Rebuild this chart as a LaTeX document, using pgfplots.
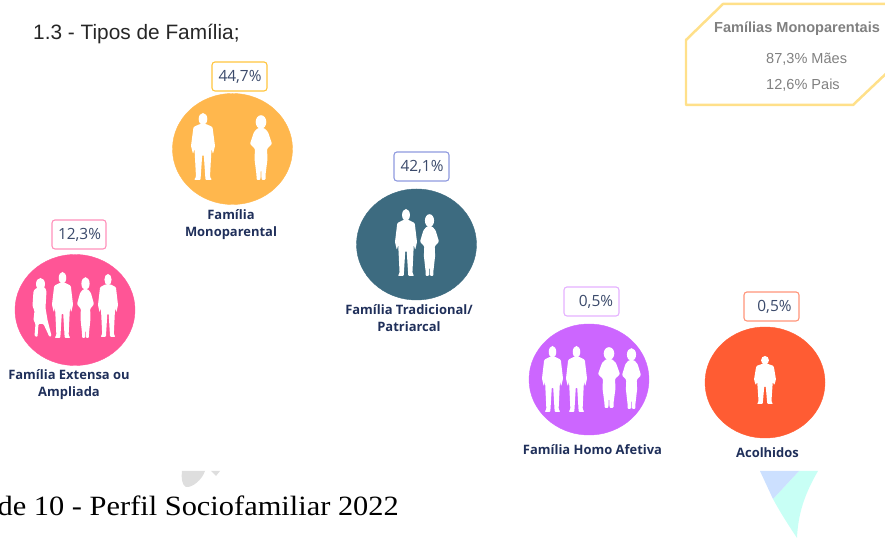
\documentclass[border=0pt]{standalone}
\usepackage{pgfplots}
\pgfplotsset{compat=1.18}
\usepackage{fontspec}
\setmainfont{Liberation Sans}
\newfontfamily\lab{Open Sans}
\newfontfamily\ser{Liberation Serif}
\definecolor{cY}{HTML}{FFB74D}
\definecolor{cP}{HTML}{FF5596}
\definecolor{cT}{HTML}{3D6B80}
\definecolor{cV}{HTML}{CC66FF}
\definecolor{cO}{HTML}{FF5C33}
\definecolor{navy}{HTML}{1F2F5A}
\definecolor{vtxt}{HTML}{3B4A6B}
\definecolor{panel}{HTML}{FFE08A}
\definecolor{mint}{HTML}{C8FFF5}
\definecolor{pale}{HTML}{CCE0FF}
% silhouettes: centre x, top y, width, height (picture pixels, y downwards)
\newcommand{\man}[4]{\begin{scope}[shift={(#1,#2)},xscale=#3/24,yscale=#4/67,fill=white,draw=none]
\fill (0,6) ellipse (4.3 and 6);
\fill[rounded corners=1] (-3,11) -- (-9.5,14) -- (-12,33) -- (-10,41) -- (-8.5,36) -- (-8,45) -- (-7,64) -- (-9,67) -- (-2.5,67) -- (-0.8,42) -- (0.8,42) -- (2.5,67) -- (9,67) -- (7,64) -- (8,45) -- (8.5,36) -- (10,41) -- (12,33) -- (9.5,14) -- (3,11) -- cycle;
\end{scope}}
\newcommand{\woman}[4]{\begin{scope}[shift={(#1,#2)},xscale=#3/22,yscale=#4/65,fill=white,draw=none]
\fill (0,7) ellipse (5.3 and 6.8);
\fill[rounded corners=1] (-3,13) -- (-7,17) -- (-11,29) -- (-6,34) -- (-6.5,44) -- (-4.5,60) -- (-4.5,65) -- (-0.6,65) -- (0,50) -- (0.6,65) -- (4.5,65) -- (4.5,60) -- (6.5,44) -- (6,34) -- (11,29) -- (7,17) -- (3,13) -- cycle;
\end{scope}}
\newcommand{\womanB}[4]{\begin{scope}[shift={(#1,#2)},xscale=#3/20,yscale=#4/59,fill=white,draw=none]
\fill (-1,6) ellipse (4.5 and 6);
\fill[rounded corners=1] (-5,10) -- (-8,13) -- (-9,28) -- (-7,33) -- (-8,42) -- (-6,46) -- (-7,58) -- (-4,59) -- (-3,46) -- (2,46) -- (8,59) -- (10,58) -- (6,42) -- (4,30) -- (5,13) -- (3,9) -- cycle;
\end{scope}}
\newcommand{\valbox}[6]{\draw[#5,line width=1.1pt,rounded corners=3,fill=white] (#1,#3) rectangle (#2,#4);
\node[text=vtxt,font=\lab\fontsize{15.5}{17}\selectfont,inner sep=0pt] at ({(#1+#2)/2+0.5},{(#3+#4)/2+0.5}) {#6};}
\begin{document}
\begin{tikzpicture}
\clip (0,0) rectangle (885bp,538bp);
\begin{axis}[at={(0,0)},anchor=south west,scale only axis,width=885bp,height=538bp,
  xmin=0,xmax=885,ymin=0,ymax=538,hide axis,clip=false]
% x centre, height above the bottom edge (538 - pixel y)
\addplot[only marks,mark=*,mark size=60bp,mark options={fill=cP,draw=cP,yscale=0.925}] coordinates {(75,228)};
\addplot[only marks,mark=*,mark size=60bp,mark options={fill=cY,draw=cY,yscale=0.925}] coordinates {(232.5,389)};
\addplot[only marks,mark=*,mark size=60bp,mark options={fill=cT,draw=cT,yscale=0.925}] coordinates {(416.5,293.5)};
\addplot[only marks,mark=*,mark size=60bp,mark options={fill=cV,draw=cV,yscale=0.925}] coordinates {(589,158.5)};
\addplot[only marks,mark=*,mark size=60bp,mark options={fill=cO,draw=cO,yscale=0.925}] coordinates {(765,155.5)};
\end{axis}
\begin{scope}[x=1bp,y=-1bp,shift={(0bp,538bp)}]
% people
\womanB{41.5}{278}{20}{59}\man{62.5}{272}{21}{66}\woman{85.5}{277}{17}{61}\man{108}{274}{20}{63}
\man{203}{113}{24}{67}\woman{261}{115}{22}{65}
\man{406}{209}{22}{67}\woman{429.5}{214}{19}{62}
\man{552.5}{346}{21}{66}\man{576.5}{346}{21}{66}\woman{609}{347}{22}{61}\woman{631.5}{348}{19}{61}
\man{765}{356}{22}{48}
% value boxes
\valbox{52}{106}{220}{249}{cP!65}{12,3\%}
\valbox{212}{267}{62}{91}{cY!80!yellow}{44,7\%}
\valbox{394}{449}{152}{181}{cT!50!blue!50}{42,1\%}
\valbox{564}{619}{287}{316}{cV!50}{\hspace{8pt}0,5\%}
\valbox{744}{799}{292}{321}{cO!65}{\hspace{5pt}0,5\%}
% category labels
\begin{scope}[every node/.style={text=navy,font=\lab\bfseries\fontsize{13}{17}\selectfont,align=center,inner sep=0pt}]
\node at (69,384.5) {Família Extensa ou\\Ampliada};
\node at (231,225) {Família\\Monoparental};
\node at (409,318.5) {Família Tradicional/\\Patriarcal};
\node at (592.5,450) {Família Homo Afetiva};
\node at (767.5,453) {Acolhidos};
\end{scope}
% heading
\node[anchor=base west,inner sep=0pt,text=black!85,font=\fontsize{20.9}{23}\selectfont] at (33,39.5) {1.3 - Tipos de Família;};
% panel
\draw[panel,line width=2.5pt,line join=round] (900,4) -- (723,4) -- (686,40) -- (686,105) -- (853,105) -- (892,68);
\begin{scope}[every node/.style={text=black!50,inner sep=0pt,anchor=base west}]
\node[font=\bfseries\fontsize{14.6}{16}\selectfont] at (714,33) {Famílias Monoparentais};
\node[font=\fontsize{14.6}{16}\selectfont] at (766,64) {87,3\% Mães};
\node[font=\fontsize{14.6}{16}\selectfont] at (766,90) {12,6\% Pais};
\end{scope}
% page fragments
\fill[black!13] (182,471) -- (205,471) .. controls (202,480) and (192,488) .. (186,487) .. controls (182,485) and (181,478) .. (182,471) -- cycle;
\fill[black!13] (211,471) -- (220,471) -- (216,476) -- cycle;
\fill[mint] (799,471) -- (818,471) .. controls (804,495) and (798,515) .. (797,538) .. controls (789,526) and (780,512) .. (773,499) -- cycle;
\fill[pale] (760,471) -- (799,471) -- (773,499) -- cycle;
\node[anchor=base east,inner sep=0pt,text=black,xscale=1.09,font=\ser\fontsize{28}{30}\selectfont] at (399,516) {de 10 - Perfil Sociofamiliar 2022};
\end{scope}
\end{tikzpicture}
\end{document}
